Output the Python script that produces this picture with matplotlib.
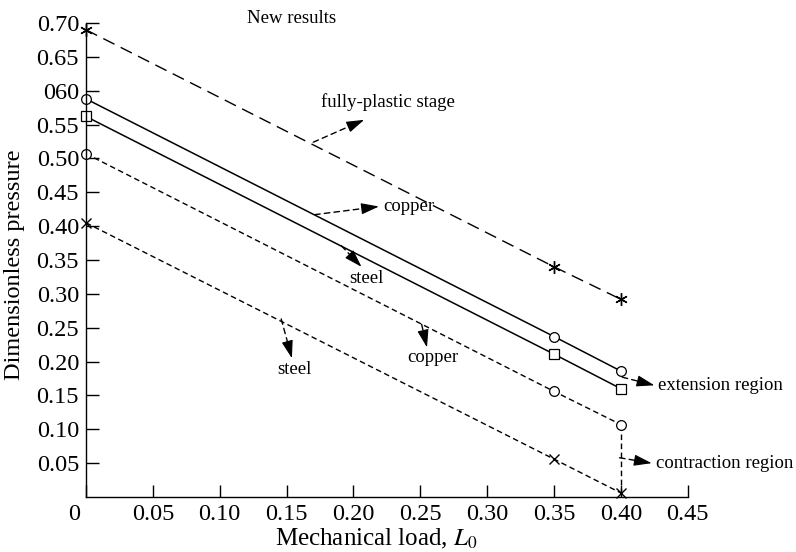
import matplotlib
matplotlib.use("Agg")
import matplotlib.pyplot as plt
from matplotlib.transforms import ScaledTranslation

plt.rcParams["font.family"] = ["Liberation Serif", "DejaVu Serif"]
plt.rcParams["mathtext.fontset"] = "stix"

# mechanical load values where points were computed
load = [0.0, 0.35, 0.40]

# dimensionless pressure for each curve
plastic = [0.690, 0.340, 0.292]        # fully-plastic stage
copper_ext = [0.588, 0.237, 0.186]     # solid, circles
steel_ext = [0.562, 0.211, 0.160]      # solid, squares
copper_con = [0.507, 0.156, 0.107]     # dashed, circles
steel_con = [0.405, 0.056, 0.006]      # dashed, crosses

x_ticks = [0, 0.05, 0.10, 0.15, 0.20, 0.25, 0.30, 0.35, 0.40, 0.45]
x_labels = ["0", "0.05", "0.10", "0.15", "0.20", "0.25", "0.30", "0.35", "0.40", "0.45"]
y_ticks = [0.05, 0.10, 0.15, 0.20, 0.25, 0.30, 0.35, 0.40, 0.45, 0.50, 0.55, 0.60, 0.65, 0.70]
y_labels = ["0.05", "0.10", "0.15", "0.20", "0.25", "0.30", "0.35", "0.40",
            "0.45", "0.50", "0.55", "060", "0.65", "0.70"]

# annotations: text, tail, head, text position, alignment
notes = [
    ("fully-plastic stage", (0.170, 0.524), (0.208, 0.557), (0.176, 0.583), "left"),
    ("copper", (0.171, 0.417), (0.219, 0.429), (0.222, 0.429), "left"),
    ("steel", (0.191, 0.371), (0.206, 0.340), (0.210, 0.323), "center"),
    ("copper", (0.251, 0.255), (0.255, 0.221), (0.259, 0.206), "center"),
    ("steel", (0.146, 0.263), (0.154, 0.205), (0.156, 0.188), "center"),
    ("extension region", (0.401, 0.177), (0.425, 0.165), (0.428, 0.164), "left"),
    ("contraction region", (0.399, 0.058), (0.423, 0.050), (0.426, 0.050), "left"),
]

fig = plt.figure(figsize=(7.96, 5.52), dpi=100)
ax = fig.add_axes([0.108, 0.0996, 0.756, 0.8587])

long_dash = (0, (9, 5))
short_dash = (0, (4, 2.5))

ax.plot(load, plastic, color="k", lw=1.0, ls=long_dash, marker=(6, 2, 0),
        ms=9, mew=1.0, clip_on=False)
ax.plot(load, copper_ext, color="k", lw=1.1, marker="o", ms=7, mfc="white",
        mew=0.9, clip_on=False)
ax.plot(load, steel_ext, color="k", lw=1.1, marker="s", ms=7.5, mfc="white",
        mew=0.9, clip_on=False)
ax.plot(load, copper_con, color="k", lw=1.0, ls=short_dash, marker="o", ms=7,
        mfc="white", mew=0.9, clip_on=False)
ax.plot(load, steel_con, color="k", lw=1.0, ls=short_dash, marker="x", ms=7,
        mew=1.0, clip_on=False)
# vertical link between the two contraction curves at the last load
ax.plot([load[-1], load[-1]], [copper_con[-1], steel_con[-1]], color="k",
        lw=1.0, ls=short_dash, zorder=1)

for txt, tail, head, pos, ha in notes:
    ax.annotate("", xy=head, xytext=tail,
                arrowprops=dict(arrowstyle="-", ls=(0, (4, 3)), lw=1.0,
                                color="k", shrinkA=0, shrinkB=5))
    ax.annotate("", xy=head, xytext=(tail[0] + 0.8 * (head[0] - tail[0]),
                                     tail[1] + 0.8 * (head[1] - tail[1])),
                arrowprops=dict(arrowstyle="-|>,head_length=1.1,head_width=0.35",
                                lw=0.8, color="k", shrinkA=0, shrinkB=0))
    ax.text(pos[0], pos[1], txt, ha=ha, va="center", fontsize=13.5)

ax.text(0.154, 0.706, "New results", ha="center", va="center", fontsize=13.5)

ax.set_xlim(0, 0.45)
ax.set_ylim(0, 0.70)
ax.set_xticks(x_ticks)
ax.set_xticklabels(x_labels)
ax.set_yticks(y_ticks)
ax.set_yticklabels(y_labels)
ax.tick_params(direction="in", length=9, width=1.0, labelsize=17.5)
ax.tick_params(axis="x", pad=5)
ax.tick_params(axis="y", pad=5)

# shift the origin label a bit to the left
lbl = ax.get_xticklabels()[0]
lbl.set_transform(lbl.get_transform() + ScaledTranslation(-0.12, 0, fig.dpi_scale_trans))

for side in ["top", "right"]:
    ax.spines[side].set_visible(False)
for side in ["left", "bottom"]:
    ax.spines[side].set_linewidth(1.0)

ax.set_xlabel("Mechanical load, $L_0$", fontsize=18)
ax.set_ylabel("Dimensionless pressure", fontsize=17.5)
ax.xaxis.set_label_coords(0.483, -0.062)
ax.yaxis.set_label_coords(-0.102, 0.49)

fig.savefig("out.png", dpi=100)
